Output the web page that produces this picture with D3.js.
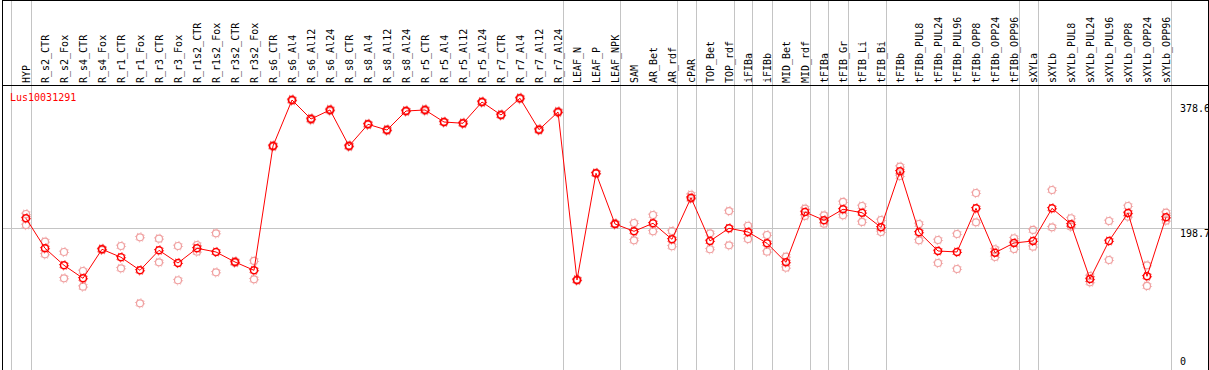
<!DOCTYPE html>
<html>
<head>
<meta charset="utf-8">
<script src="https://cdn.jsdelivr.net/npm/d3@7"></script>
<style>
  body { margin: 0; background: #fff; }
  text { font-family: "DejaVu Sans Mono", monospace; font-size: 10px; }
</style>
</head>
<body>
<div id="chart"></div>
<script>
// sample names (one column each)
var samples = ["HYP", "R_s2_CTR", "R_s2_Fox", "R_s4_CTR", "R_s4_Fox", "R_r1_CTR", "R_r1_Fox",
  "R_r3_CTR", "R_r3_Fox", "R_r1s2_CTR", "R_r1s2_Fox", "R_r3s2_CTR", "R_r3s2_Fox", "R_s6_CTR",
  "R_s6_Al4", "R_s6_Al12", "R_s6_Al24", "R_s8_CTR", "R_s8_Al4", "R_s8_Al12", "R_s8_Al24",
  "R_r5_CTR", "R_r5_Al4", "R_r5_Al12", "R_r5_Al24", "R_r7_CTR", "R_r7_Al4", "R_r7_Al12", "R_r7_Al24",
  "LEAF_N", "LEAF_P", "LEAF_NPK", "SAM", "AR_Bet", "AR_rdf", "cPAR", "TOP_Bet", "TOP_rdf",
  "iFIBa", "iFIBb", "MID_Bet", "MID_rdf", "tFIBa", "tFIB_Gr", "tFIB_Li", "tFIB_Bi", "tFIBb",
  "tFIBb_PUL8", "tFIBb_PUL24", "tFIBb_PUL96", "tFIBb_OPP8", "tFIBb_OPP24", "tFIBb_OPP96",
  "sXYLa", "sXYLb", "sXYLb_PUL8", "sXYLb_PUL24", "sXYLb_PUL96", "sXYLb_OPP8", "sXYLb_OPP24", "sXYLb_OPP96"];

// mean expression per sample
var meanValues = [213.1, 170.0, 145.6, 126.9, 168.6, 157.1, 138.4, 167.1, 148.9, 170.0, 164.7, 150.3, 138.4,
  316.9, 382.9, 355.6, 368.6, 316.9, 348.0, 339.8, 367.1, 368.6, 351.3, 349.5, 380.0, 361.4, 385.4, 340.3, 365.7,
  124.5, 277.7, 204.9, 194.4, 205.9, 182.9, 242.6, 180.5, 198.7, 193.4, 177.2, 149.9, 222.1, 210.2, 226.0,
  221.1, 200.1, 280.5, 193.0, 166.1, 164.7, 227.4, 163.7, 177.6, 180.5, 227.4, 204.5, 125.9, 180.5, 220.7,
  129.8, 214.5];

// replicates
var repA = [219.2, 179.5, 164.7, 137.4, 169.5, 173.3, 185.8, 183.8, 173.3, 174.7, 191.5, 151.5, 151.8,
  318, 384, 357, 370, 318, 349, 341, 368, 370, 352, 350.5, 381, 362.5, 386.5, 341.5, 367,
  125.5, 278.5, 206, 206.3, 217.8, 194.8, 246.9, 191.5, 223.5, 202.4, 189.1, 157.9, 226.9, 217.4, 236.5,
  230.7, 210.6, 287.2, 204.9, 181.9, 190.5, 249.4, 168.6, 184.4, 196.3, 253.7, 213.1, 130.2, 209.2, 230.7,
  145.6, 221.1];
var repB = [203.4, 161.4, 126.9, 114.9, 167.5, 141.3, 91.0, 149.9, 124.1, 165.1, 135.5, 149, 125.5,
  315.5, 381.5, 354, 367, 315.5, 347, 338.5, 366, 367, 350.5, 348.5, 379, 360.5, 384, 339, 364.5,
  123.5, 277, 204, 181.5, 194.4, 172.9, 240.8, 168.6, 174.3, 183.3, 165.1, 142.1, 216.4, 205.3, 217.4,
  207.8, 193.4, 273.8, 181.5, 148.9, 140.3, 207.3, 157.5, 169.0, 172.3, 200.1, 201.0, 121.2, 153.2, 215.4,
  115.9, 209.6];

// group boundaries: separator after these column indices
var groupEnds = [-1, 0, 28, 31, 34, 35, 37, 38, 39, 41, 42, 43, 45, 52, 53, 60];
var yTicks = [0, 198.7, 378.6];
var geneName = "Lus10031291";

var svgWidth = 1209;
var svgHeight = 370;
var headerBottom = 85.5;

var svg = d3.select("#chart")
  .append("svg")
  .attr("width", svgWidth)
  .attr("height", svgHeight);

var xScale = d3.scaleLinear()
  .domain([0, samples.length - 1])
  .range([26, 1166]);

var yScale = d3.scaleLinear()
  .domain([0, 378.6])
  .range([366.7, 103]);

// vertical group separators
svg.selectAll(".sep")
  .data(groupEnds)
  .enter()
  .append("line")
  .attr("x1", d => Math.round(xScale(d) + 4.5) + 0.5)
  .attr("x2", d => Math.round(xScale(d) + 4.5) + 0.5)
  .attr("y1", 0)
  .attr("y2", svgHeight)
  .attr("stroke", "#c4c4c4")
  .attr("stroke-width", 1);

// middle horizontal reference line
svg.append("line")
  .attr("x1", 2)
  .attr("x2", 1208)
  .attr("y1", Math.round(yScale(yTicks[1])) + 0.5)
  .attr("y2", Math.round(yScale(yTicks[1])) + 0.5)
  .attr("stroke", "#c4c4c4");

// frame
svg.append("line").attr("x1", 2).attr("x2", 1209).attr("y1", 0.5).attr("y2", 0.5).attr("stroke", "#000");
svg.append("line").attr("x1", 2).attr("x2", 1209).attr("y1", headerBottom).attr("y2", headerBottom).attr("stroke", "#000");
svg.append("line").attr("x1", 2.5).attr("x2", 2.5).attr("y1", 0).attr("y2", svgHeight).attr("stroke", "#000");
svg.append("line").attr("x1", 1208.5).attr("x2", 1208.5).attr("y1", 0).attr("y2", svgHeight).attr("stroke", "#000");

// column labels
svg.selectAll(".colLabel")
  .data(samples)
  .enter()
  .append("text")
  .attr("class", "colLabel")
  .attr("transform", (d, i) => `translate(${xScale(i) + 3.5}, 83) rotate(-90)`)
  .attr("fill", "#000")
  .text(d => d);

// right value labels
svg.selectAll(".yLabel")
  .data(yTicks)
  .enter()
  .append("text")
  .attr("x", 1180)
  .attr("y", d => Math.min(yScale(d) + 8.5, 365))
  .attr("fill", "#000")
  .text(d => d);

// gene name
svg.append("text")
  .attr("x", 10)
  .attr("y", 101)
  .attr("fill", "#ff0000")
  .text(geneName);

// marker: ring plus small outer ticks
function drawMarkers(sel, color, width) {
  sel.append("circle")
    .attr("r", 3.5)
    .attr("fill", "none")
    .attr("stroke", color)
    .attr("stroke-width", width);
  sel.append("circle")
    .attr("r", 4.6)
    .attr("fill", "none")
    .attr("stroke", color)
    .attr("stroke-width", 1)
    .attr("stroke-dasharray", "1 2.613");
}

// replicate points
var reps = [];
samples.forEach(function(s, i) {
  reps.push({ i: i, v: repA[i] });
  reps.push({ i: i, v: repB[i] });
});

var repGroups = svg.selectAll(".rep")
  .data(reps)
  .enter()
  .append("g")
  .attr("transform", d => `translate(${xScale(d.i)}, ${yScale(d.v)})`);
drawMarkers(repGroups, "#f0a0a0", 1.2);

// mean line
var line = d3.line()
  .x((d, i) => xScale(i))
  .y(d => yScale(d));

svg.append("path")
  .datum(meanValues)
  .attr("d", line)
  .attr("fill", "none")
  .attr("stroke", "#ff0000")
  .attr("stroke-width", 1);

// mean points
var meanGroups = svg.selectAll(".mean")
  .data(meanValues)
  .enter()
  .append("g")
  .attr("transform", (d, i) => `translate(${xScale(i)}, ${yScale(d)})`);
drawMarkers(meanGroups, "#ff0000", 1.5);
</script>
</body>
</html>
